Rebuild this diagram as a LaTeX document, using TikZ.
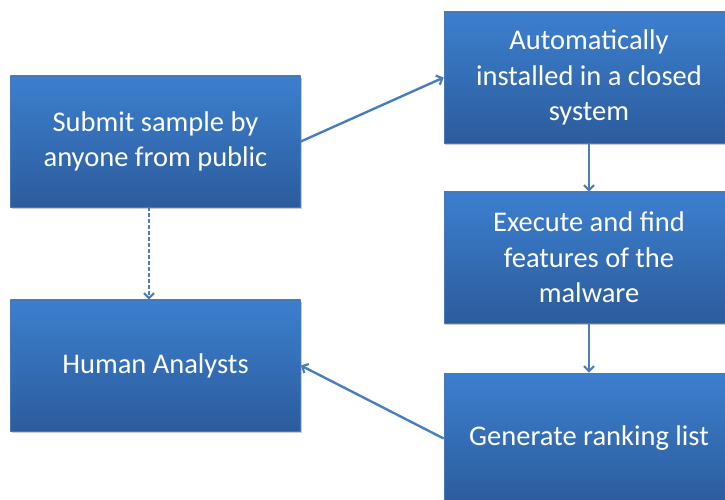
\documentclass[tikz,border=0pt]{standalone}
\usepackage{fontspec}
\setmainfont{Carlito}
\usetikzlibrary{arrows.meta,shadows}
\definecolor{boxtop}{RGB}{60,127,207}
\definecolor{boxbot}{RGB}{44,92,156}
\definecolor{boxedge}{RGB}{70,120,185}
\definecolor{linecol}{RGB}{74,126,187}
\tikzset{
  box/.style={rectangle, minimum width=290bp, minimum height=131bp, inner sep=0pt,
    top color=boxtop, bottom color=boxbot, draw=boxedge, line width=0.6bp,
    drop shadow={shadow xshift=1.2bp, shadow yshift=-1.8bp, opacity=0.35, fill=black!60},
    text=white, align=center, font=\fontsize{28.5bp}{35.5bp}\selectfont},
  conn/.style={draw=linecol, line width=2.4bp, -{Straight Barb[length=5bp,width=10bp,line width=2.2bp]}},
  dconn/.style={conn, dash pattern=on 4bp off 2bp}
}
\begin{document}
\begin{tikzpicture}[x=1bp,y=-1bp]
\useasboundingbox (0,0) rectangle (725,500);
\clip (0,0) rectangle (725,500);
\node[box] (submit) at (155.5,141.5) {Submit sample by\\anyone from public};
\node[box] (human) at (155.5,365.5) {Human Analysts};
\node[box] (install) at (589,77.5) {Automatically\\installed in a closed\\system};
\node[box] (exec) at (589,257.5) {Execute and find\\features of the\\malware};
\node[box] (rank) at (589,438.5) {Generate ranking list};
\coordinate (dtop) at (149,207);
\coordinate (dbot) at (149,300);
\draw[conn] (submit.east) -- (install.west);
\draw[conn] (install.south) -- (exec.north);
\draw[conn] (exec.south) -- (rank.north);
\draw[conn] (rank.west) -- (human.east);
\draw[dconn] (submit.south -| dtop) -- (human.north -| dbot);
\end{tikzpicture}
\end{document}
